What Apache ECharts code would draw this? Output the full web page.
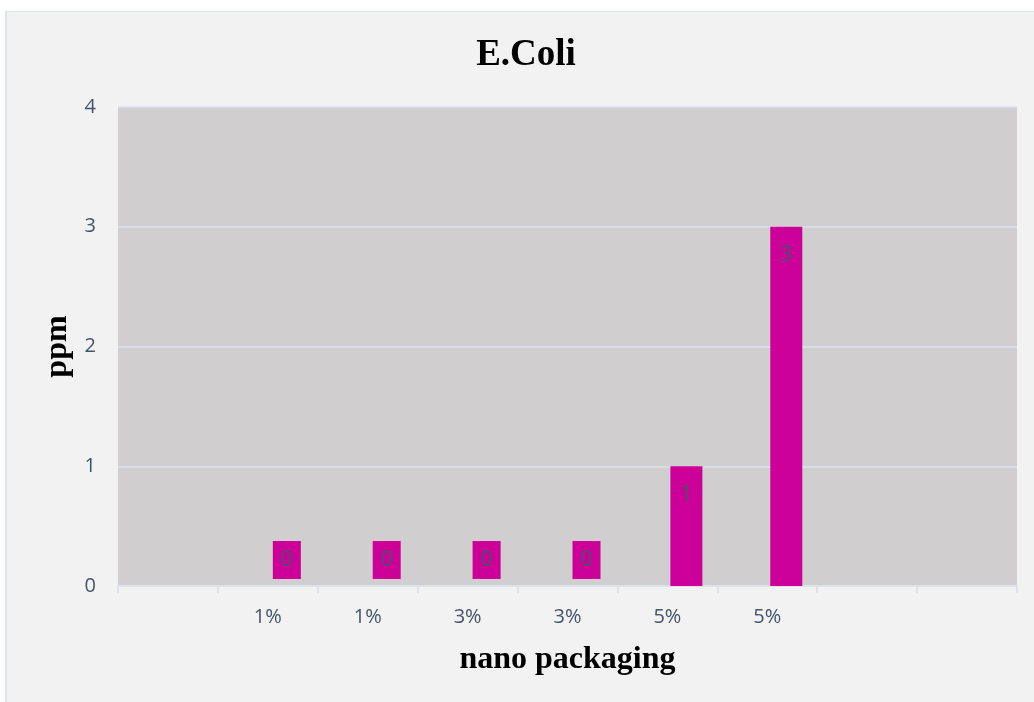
<!DOCTYPE html>
<html>
<head>
<meta charset="utf-8">
<script src="https://cdn.jsdelivr.net/npm/echarts@6/dist/echarts.min.js"></script>
<style>
  html, body { margin: 0; padding: 0; background: #ffffff; }
  #frame { position: absolute; left: 5px; top: 11px; right: 0; bottom: 0; background: #f2f2f2; border-left: 2px solid #dfe3ea; border-top: 1px solid #dfe3ea; }
  #chart { position: absolute; left: 0; top: 0; width: 1034px; height: 702px; }
</style>
</head>
<body>
<div id="frame"></div>
<div id="chart"></div>
<script>
  const categories = ["", "1%", "1%", "3%", "3%", "5%", "5%", "", ""];
  const emptySeries = [null, null, null, null, null, null, null, null, null];
  const ppmValues = [null, 0, 0, 0, 0, 1, 3, null, null];

  const labelColor = "#44546a";
  const barColor = "#cc0099";
  const lineColor = "#dde2ea";

  const chart = echarts.init(document.getElementById("chart"));

  const barData = ppmValues.map((v) => {
    if (v === 0) {
      return {
        value: v,
        label: {
          show: true,
          position: "top",
          distance: 7,
          backgroundColor: barColor,
          padding: [8, 8],
          lineHeight: 22
        }
      };
    }
    return v;
  });

  chart.setOption({
    backgroundColor: "transparent",
    title: {
      text: "E.Coli",
      left: 521,
      top: 32,
      textAlign: "center",
      textStyle: { fontFamily: "Liberation Serif", fontWeight: "bold", fontSize: 37, color: "#000" }
    },
    grid: { left: 118, right: 17, top: 107, bottom: 116, show: true, backgroundColor: "#d0cecf", borderWidth: 0 },
    xAxis: {
      type: "category",
      data: categories,
      name: "nano packaging",
      nameLocation: "middle",
      nameGap: 58,
      nameTextStyle: { fontFamily: "Liberation Serif", fontWeight: "bold", fontSize: 32, color: "#000" },
      axisLine: { lineStyle: { color: lineColor, width: 2 } },
      axisTick: { show: true, length: 7, lineStyle: { color: lineColor, width: 2 } },
      axisLabel: { color: labelColor, fontFamily: "Open Sans", fontSize: 20, margin: 21, interval: 0 }
    },
    yAxis: {
      type: "value",
      min: 0,
      max: 4,
      interval: 1,
      name: "ppm",
      nameLocation: "middle",
      nameGap: 42,
      nameTextStyle: { fontFamily: "Liberation Serif", fontWeight: "bold", fontSize: 32, color: "#000" },
      axisLine: { show: false },
      axisTick: { show: false },
      axisLabel: { color: labelColor, fontFamily: "Open Sans", fontSize: 20, margin: 22 },
      splitLine: { lineStyle: { color: lineColor, width: 1.5 } }
    },
    series: [
      { name: "blank", type: "bar", data: emptySeries, barWidth: 32, barGap: "18.75%", silent: true },
      {
        name: "ppm",
        type: "bar",
        data: barData,
        barWidth: 32,
        itemStyle: { color: barColor },
        label: {
          show: true,
          position: "insideTop",
          distance: 18,
          color: labelColor,
          fontFamily: "Open Sans",
          fontSize: 21
        }
      }
    ]
  });
</script>
</body>
</html>
